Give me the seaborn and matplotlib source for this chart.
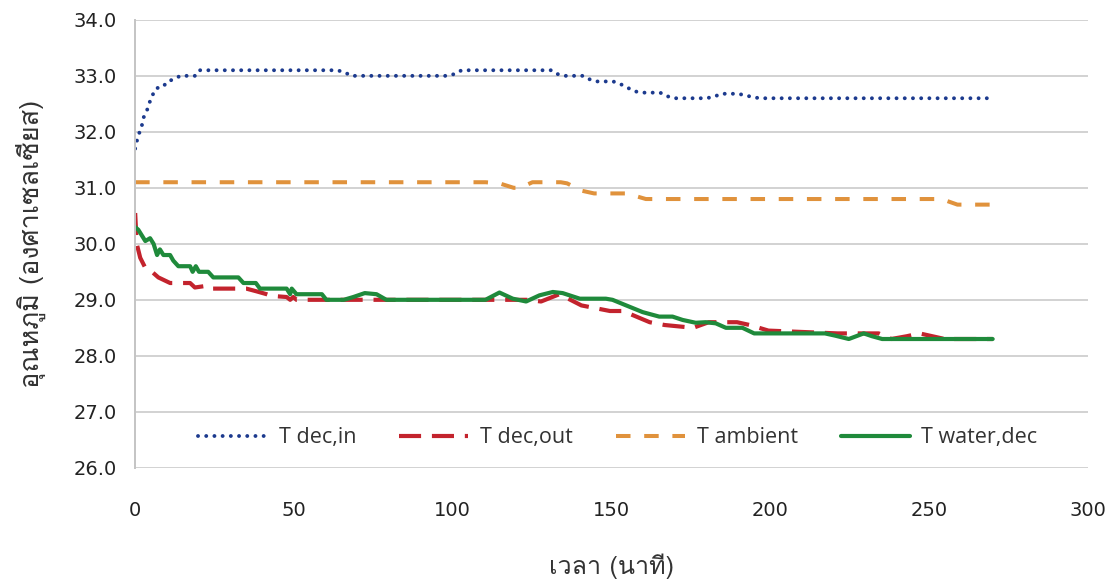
import numpy as np
import pandas as pd
import matplotlib
matplotlib.use("Agg")
import matplotlib.pyplot as plt
import seaborn as sns
from matplotlib import font_manager
from matplotlib.ft2font import FT2Font

# Time (minutes) and temperatures (deg C)
t_dec_in = [0, 0.6, 1.3, 2.1, 2.6, 3.7, 4.5, 5.4, 6.7, 8.7, 10.2, 12.2, 14.2, 19.1, 20.4,
            63.5, 65.7, 68.1, 98.1, 100.4, 102.8, 131.1, 133.1, 135.6, 141, 143, 145.4,
            150.5, 152.9, 155.3, 157.6, 160, 165.3, 167.3, 169.7, 179.9, 182.3, 184.7,
            189.3, 191.8, 194.3, 196.8, 270]
T_dec_in = [31.7, 31.85, 31.98, 32.11, 32.25, 32.38, 32.52, 32.65, 32.78, 32.8, 32.9, 32.94,
            33.0, 33.0, 33.1, 33.1, 33.07, 33.0, 33.0, 33.03, 33.1, 33.1, 33.03, 33.0, 33.0,
            32.94, 32.9, 32.9, 32.85, 32.78, 32.72, 32.7, 32.7, 32.64, 32.6, 32.6, 32.63,
            32.68, 32.68, 32.66, 32.62, 32.6, 32.6]

t_dec_out = [0, 0.5, 1.6, 3.2, 5.3, 7.3, 11.0, 17.3, 18.8, 22.5, 23.6, 35, 38.3, 41.4, 42.9,
             47.7, 48.8, 49.8, 50.8, 111.3, 114.2, 123.2, 127.8, 133.6, 140.5, 149.5, 153.6,
             162, 166.7, 175.7, 180.6, 189.5, 193.5, 199.4, 221.2, 229.2, 234.1, 238.1, 243,
             247, 254.9, 270]
T_dec_out = [30.55, 30.0, 29.75, 29.57, 29.5, 29.4, 29.3, 29.3, 29.22, 29.25, 29.2, 29.2,
             29.15, 29.1, 29.07, 29.05, 29.0, 29.05, 29.0, 29.0, 29.0, 29.0, 28.97, 29.1,
             28.9, 28.8, 28.8, 28.6, 28.55, 28.5, 28.6, 28.6, 28.55, 28.45, 28.4, 28.4, 28.4,
             28.3, 28.35, 28.4, 28.3, 28.3]

t_ambient = [0, 110.3, 114.7, 119.2, 121.2, 125.1, 134, 136, 140.5, 144.5, 154.8, 160.8,
             253.9, 258.9, 270]
T_ambient = [31.1, 31.1, 31.08, 31.0, 31.0, 31.1, 31.1, 31.08, 30.95, 30.9, 30.9, 30.8,
             30.8, 30.7, 30.7]

t_water = [0, 1.0, 3.2, 4.7, 5.8, 6.9, 7.8, 8.9, 11.0, 12.0, 13.6, 17.3, 18.1, 19.1, 20.1,
           23.0, 24.6, 32.5, 34.1, 38.0, 39.3, 47.7, 48.8, 49.3, 50.8, 58.8, 60.2, 65.7,
           68.7, 72.3, 76.0, 79.1, 110.3, 114.7, 118.9, 123.1, 127.3, 131.5, 134.6, 140,
           148.2, 150.3, 154.6, 159.8, 165, 169.2, 172.4, 176.5, 179.6, 182.8, 186, 191.2,
           194.9, 217.2, 220.4, 224.7, 229.4, 232, 235.2, 270]
T_water = [30.3, 30.25, 30.05, 30.1, 30.0, 29.8, 29.9, 29.8, 29.8, 29.7, 29.6, 29.6, 29.5,
           29.6, 29.5, 29.5, 29.4, 29.4, 29.3, 29.3, 29.2, 29.2, 29.1, 29.2, 29.1, 29.1,
           29.0, 29.0, 29.05, 29.12, 29.1, 29.0, 29.0, 29.13, 29.02, 28.97, 29.08, 29.14,
           29.12, 29.02, 29.02, 29.0, 28.9, 28.78, 28.7, 28.7, 28.64, 28.59, 28.6, 28.58,
           28.5, 28.5, 28.4, 28.4, 28.36, 28.3, 28.4, 28.35, 28.3, 28.3]

series_names = ["T dec,in", "T dec,out", "T ambient", "T water,dec"]
x_ticks = [0, 50, 100, 150, 200, 250, 300]
y_ticks = [26, 27, 28, 29, 30, 31, 32, 33, 34]
x_label = "เวลา (นาที)"
y_label = "อุณหภูมิ (องศาเซลเซียส)"


def find_thai_font():
    # pick any installed font that actually has Thai glyphs
    for f in font_manager.fontManager.ttflist:
        try:
            if 0x0E2D in FT2Font(f.fname).get_charmap():
                return f.name
        except Exception:
            pass
    return "DejaVu Sans"


sns.set_theme(style="white")
plt.rcParams["font.family"] = ["DejaVu Sans"]
thai = find_thai_font()

fig = plt.figure(figsize=(11.17, 5.84), dpi=100)
ax = fig.add_axes([0.121, 0.199, 0.853, 0.767])

styles = [
    dict(color="#1c3a8e", lw=2.8, linestyle=(0, (0.01, 2.1)), dash_capstyle="round"),
    dict(color="#c3232d", lw=3.0, linestyle=(0, (5.3, 2.6))),
    dict(color="#e0923c", lw=2.9, linestyle=(0, (3.6, 3.4))),
    dict(color="#1f8a3b", lw=3.0, linestyle="-"),
]
data = [(t_dec_in, T_dec_in), (t_dec_out, T_dec_out), (t_ambient, T_ambient), (t_water, T_water)]

for (t, v), name, st in zip(data, series_names, styles):
    df = pd.DataFrame({"t": t, "T": v})
    sns.lineplot(data=df, x="t", y="T", ax=ax, label=name, **st)

ax.set_xlim(0, 300)
ax.set_ylim(26, 34)
ax.set_xticks(x_ticks)
ax.set_yticks(y_ticks)
ax.set_yticklabels([f"{v:.1f}" for v in y_ticks])
ax.tick_params(axis="both", length=0, labelsize=14, colors="#222222")
ax.tick_params(axis="x", pad=24)
ax.tick_params(axis="y", pad=13)
ax.yaxis.grid(True, color="#d2d2d2", lw=1.4)
ax.xaxis.grid(False)
for s in ["top", "right", "bottom"]:
    ax.spines[s].set_visible(False)
ax.spines["left"].set_color("#c4c4c4")
ax.spines["left"].set_linewidth(1.4)

ax.set_xlabel(x_label, family=[thai, "DejaVu Sans"], fontsize=18, color="#333333", labelpad=24)
ax.set_ylabel(y_label, family=[thai, "DejaVu Sans"], fontsize=19.5, color="#333333", labelpad=20)

handles, labels = ax.get_legend_handles_labels()
ax.get_legend().remove()
leg = ax.legend(handles, labels, ncol=4, loc="center left", bbox_to_anchor=(0.066, 0.067),
                frameon=False, handlelength=3.2, handletextpad=0.55, columnspacing=2.0,
                borderpad=0, borderaxespad=0, prop={"family": "Open Sans", "size": 15.5})
for txt in leg.get_texts():
    txt.set_color("#333333")

fig.savefig("out.png", dpi=100)
